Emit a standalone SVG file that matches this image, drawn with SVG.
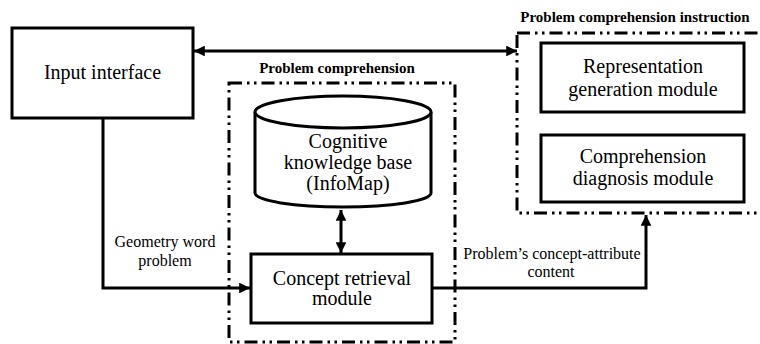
<svg xmlns="http://www.w3.org/2000/svg" width="760" height="344" viewBox="0 0 760 344">
<style>
.box{fill:#fff;stroke:#000;stroke-width:3}
.grp{fill:none;stroke:#000;stroke-width:3;stroke-dasharray:13 5 2.5 4.5 2.5 5}
text{font-family:'Liberation Serif','Times New Roman',serif;text-anchor:middle;fill:#000}
.t{font-size:20px}
.s{font-size:16px}
.b{font-size:15px;font-weight:bold}
.ln{fill:none;stroke:#000;stroke-width:3}
</style>
<defs>
<marker id="ah" viewBox="0 0 10 10" refX="10" refY="5" markerWidth="4" markerHeight="3.6" orient="auto-start-reverse" markerUnits="strokeWidth">
<path d="M0,0 L10,5 L0,10 z" fill="#000"/>
</marker>
</defs>
<g id="group-problem-comprehension">
<rect class="grp" x="229" y="83" width="226" height="259"/>
<text class="b" x="337" y="73">Problem comprehension</text>
</g>
<g id="group-instruction">
<rect class="grp" x="517" y="33" width="250" height="180"/>
<text class="b" x="635" y="22">Problem comprehension instruction</text>
</g>
<g id="input-interface">
<rect class="box" x="12" y="28" width="181" height="90"/>
<text class="t" x="102.5" y="79">Input interface</text>
</g>
<g id="knowledge-base">
<path class="box" d="M255,112 L255,193 A88,14 0 0 0 431,193 L431,112"/>
<ellipse class="box" cx="343" cy="112" rx="88" ry="16"/>
<text class="t" x="348" y="148">Cognitive</text>
<text class="t" x="348" y="169">knowledge base</text>
<text class="t" x="348" y="190">(InfoMap)</text>
</g>
<g id="concept-retrieval">
<rect class="box" x="251" y="254" width="181" height="69"/>
<text class="t" x="342" y="285">Concept retrieval</text>
<text class="t" x="342" y="305">module</text>
</g>
<g id="representation-generation">
<rect class="box" x="541" y="43" width="203" height="69"/>
<text class="t" x="643" y="73">Representation</text>
<text class="t" x="643" y="96">generation module</text>
</g>
<g id="comprehension-diagnosis">
<rect class="box" x="541" y="135" width="203" height="67"/>
<text class="t" x="643" y="163">Comprehension</text>
<text class="t" x="643" y="185">diagnosis module</text>
</g>
<g id="connectors">
<line class="ln" x1="194" y1="51" x2="517" y2="51" marker-start="url(#ah)" marker-end="url(#ah)"/>
<line class="ln" x1="341" y1="210" x2="341" y2="253" marker-start="url(#ah)" marker-end="url(#ah)"/>
<polyline class="ln" points="103,118 103,288 250,288" marker-end="url(#ah)"/>
<polyline class="ln" points="432,288 646,288 646,215" marker-end="url(#ah)"/>
<text class="s" x="165" y="247">Geometry word</text>
<text class="s" x="165" y="266">problem</text>
<text class="s" x="552" y="259">Problem’s concept-attribute</text>
<text class="s" x="551" y="277">content</text>
</g>
</svg>
